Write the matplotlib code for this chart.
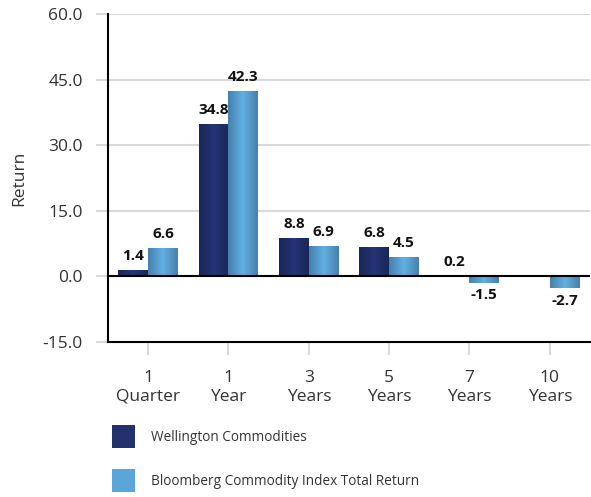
import numpy as np
import matplotlib.pyplot as plt
from matplotlib.colors import LinearSegmentedColormap
from matplotlib.patches import Patch

plt.rcParams['font.family'] = ['Open Sans', 'DejaVu Sans']

# Data
periods = ['1\nQuarter', '1\nYear', '3\nYears', '5\nYears', '7\nYears', '10\nYears']
wellington = [1.4, 34.8, 8.8, 6.8, 0.2, None]
bloomberg = [6.6, 42.3, 6.9, 4.5, -1.5, -2.7]
series_names = ['Wellington Commodities', 'Bloomberg Commodity Index Total Return']
yticks = [-15, 0, 15, 30, 45, 60]

dark_cmap = LinearSegmentedColormap.from_list('dark', ['#1b275a', '#243573', '#1b275a'])
light_cmap = LinearSegmentedColormap.from_list('light', ['#4680ad', '#62b0e2', '#4680ad'])

fig = plt.figure(figsize=(5.91, 4.97), dpi=100)
ax = fig.add_axes([0.1827, 0.3119, 0.8156, 0.66])

x = np.arange(len(periods))
w = 0.37
grad = np.linspace(0, 1, 64).reshape(1, -1)


def draw_bars(xs, vals, cmap, color):
    for xi, v in zip(xs, vals):
        if v is None:
            continue
        b = ax.bar(xi, v, w, color=color, zorder=2)[0]
        x0, y0 = b.get_x(), b.get_y()
        img = ax.imshow(grad, cmap=cmap, aspect='auto', zorder=2.5,
                        extent=[x0, x0 + b.get_width(), y0, y0 + b.get_height()])
        img.set_clip_path(b)
        if v >= 0:
            ax.annotate(f'{v:.1f}', (xi, v), xytext=(0, 5), textcoords='offset points',
                        ha='center', va='bottom', fontsize=11, fontweight='bold', color='#111111')
        else:
            ax.annotate(f'{v:.1f}', (xi, v), xytext=(0, -4), textcoords='offset points',
                        ha='center', va='top', fontsize=11, fontweight='bold', color='#111111')


draw_bars(x - w / 2, wellington, dark_cmap, '#22306b')
draw_bars(x + w / 2, bloomberg, light_cmap, '#5aa6da')

ax.set_xlim(-0.5, len(periods) - 0.5)
ax.set_ylim(-15, 60)
ax.set_yticks(yticks)
ax.set_yticklabels([f'{t:.1f}' for t in yticks], fontsize=12.5, color='#333333')
ax.set_xticks(x)
ax.set_xticklabels(periods, fontsize=12.5, color='#333333', linespacing=1.25)
ax.set_ylabel('Return', fontsize=12.5, color='#333333', labelpad=11)

ax.grid(axis='y', color='#d9d9d9', linewidth=1.5, zorder=0)
ax.axhline(0, color='black', linewidth=1.5, zorder=3)
ax.tick_params(axis='y', length=9, width=1.5, color='#d9d9d9', pad=9)
ax.tick_params(axis='x', length=9, width=1.5, color='#d9d9d9', pad=11)

for s in ['top', 'right']:
    ax.spines[s].set_visible(False)
for s in ['left', 'bottom']:
    ax.spines[s].set_linewidth(1.5)
    ax.spines[s].set_color('black')
    ax.spines[s].set_zorder(3)

handles = [Patch(facecolor='#22306b'), Patch(facecolor='#5aa6da')]
fig.legend(handles, series_names, loc='upper left', bbox_to_anchor=(0.178, 0.158),
           frameon=False, fontsize=9.8, handlelength=1.69, handleheight=2.23,
           labelspacing=1.5, handletextpad=1.17, borderpad=0, labelcolor='#333333')

fig.savefig('out.png', dpi=100)
